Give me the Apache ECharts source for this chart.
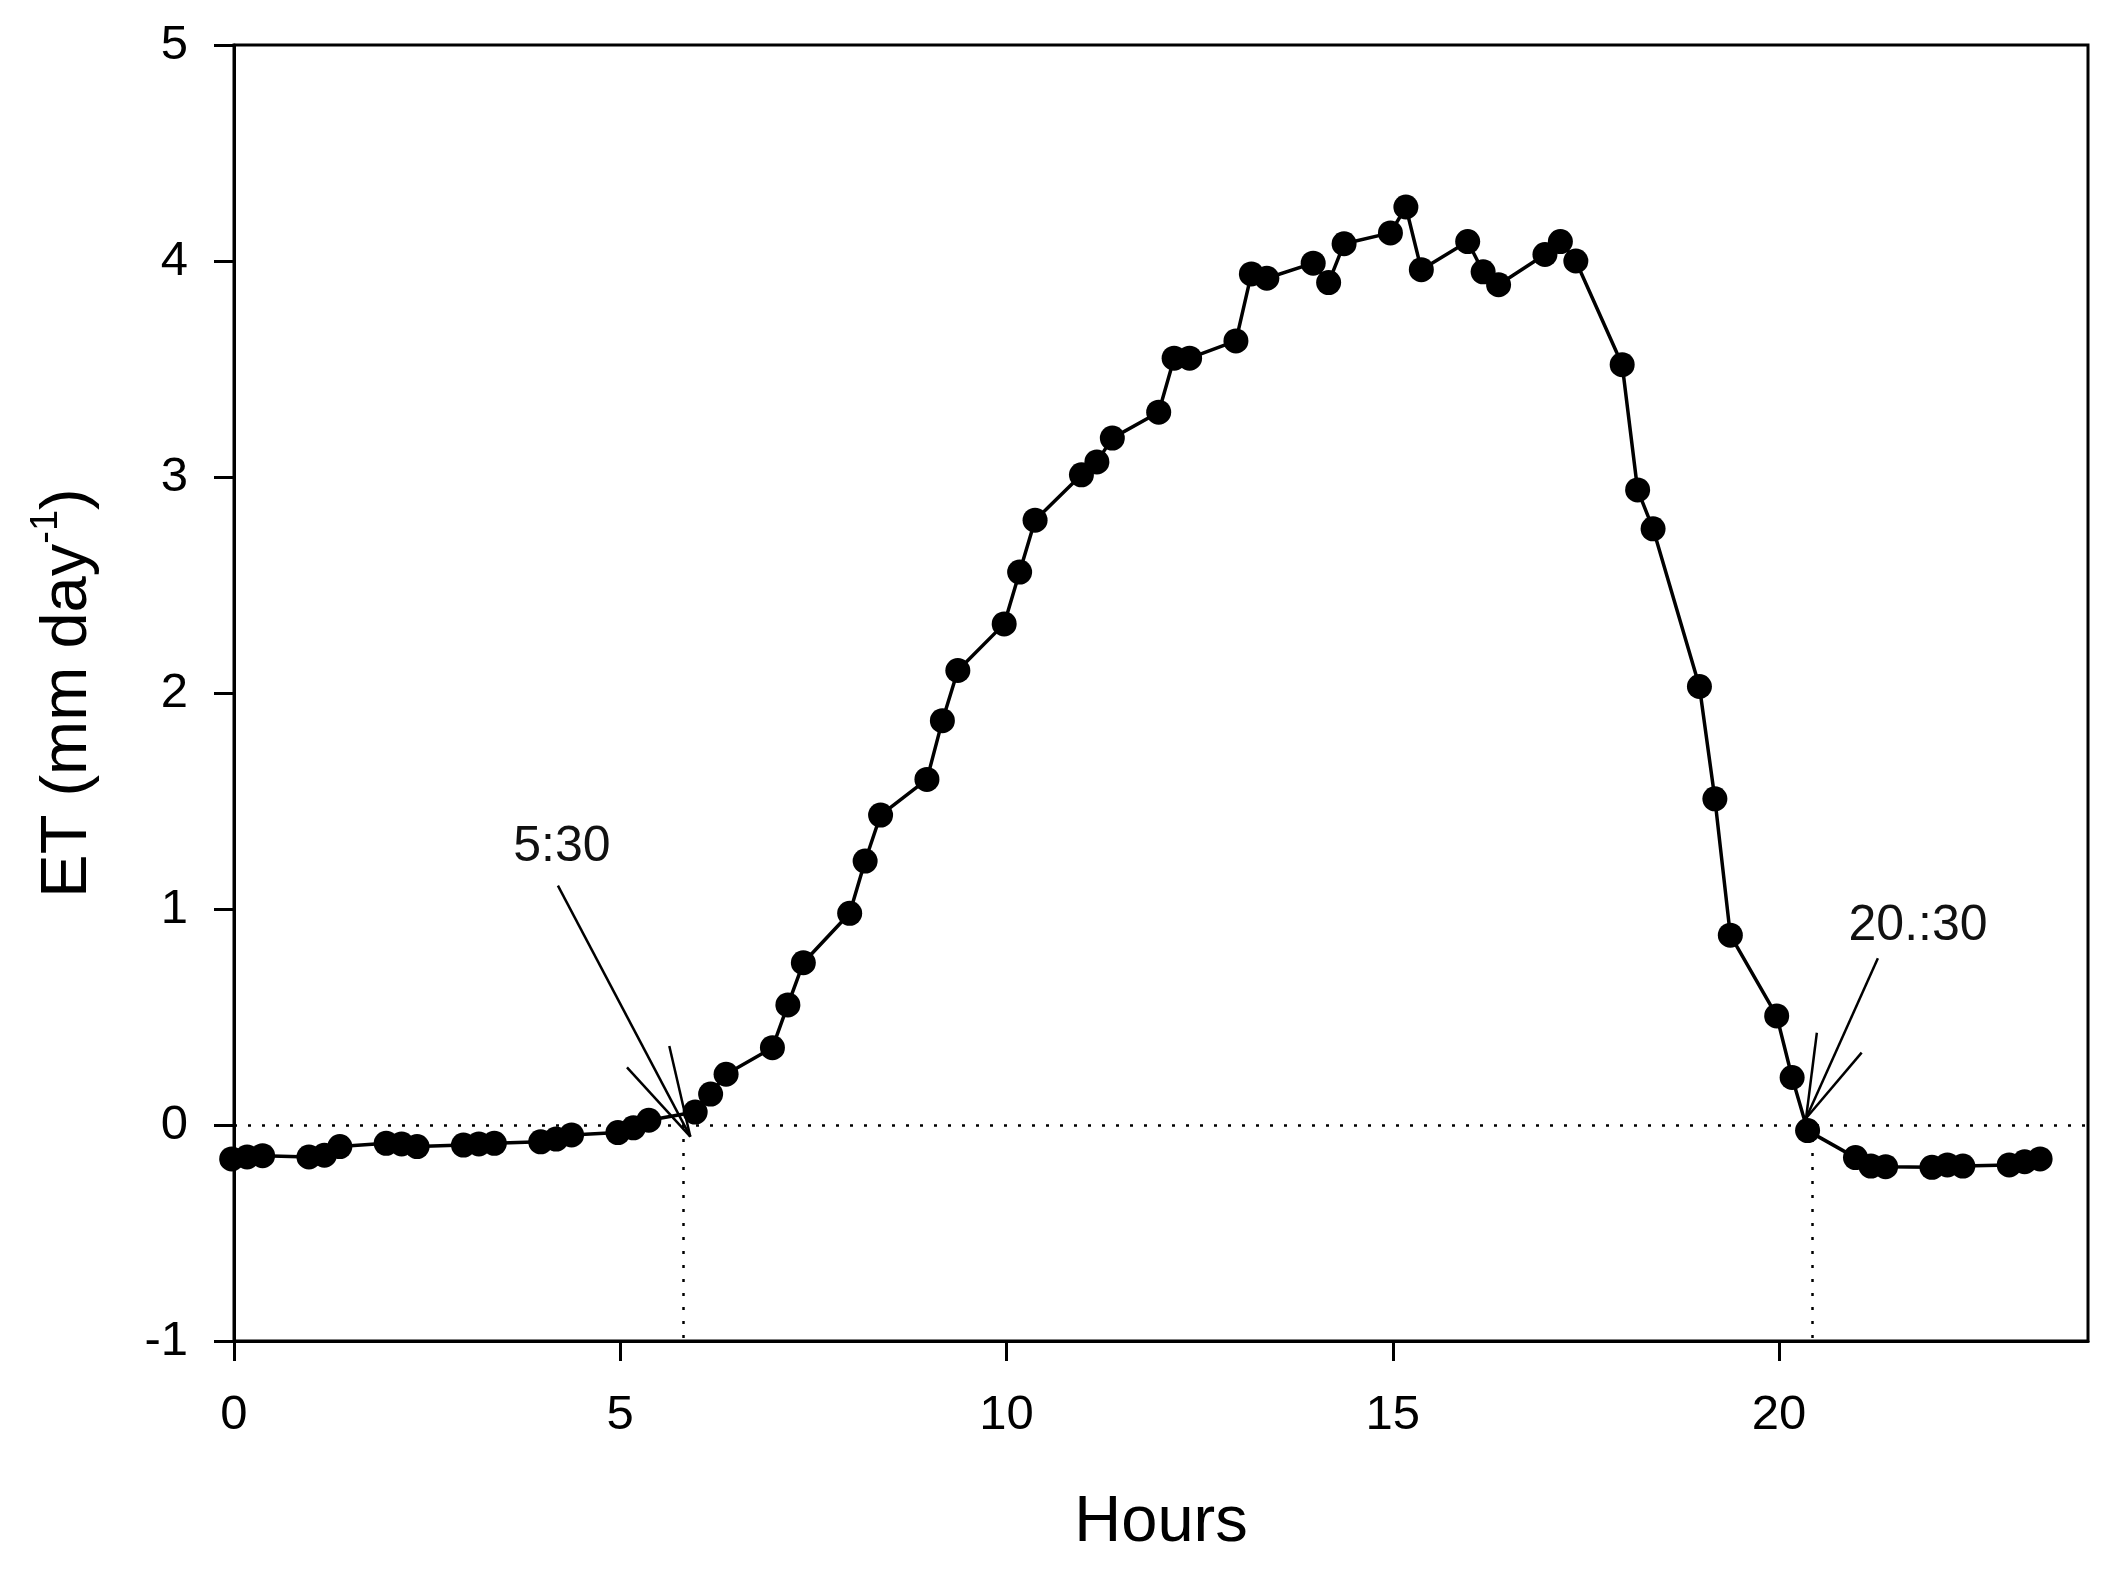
<!DOCTYPE html>
<html>
<head>
<meta charset="utf-8">
<script src="https://cdn.jsdelivr.net/npm/echarts@6/dist/echarts.min.js"></script>
<style>
html,body{margin:0;padding:0;background:#ffffff;}
#chart{width:2116px;height:1571px;}
</style>
</head>
<body>
<div id="chart"></div>
<script>
// ---- data ----
const hours = [
  -0.03, 0.17, 0.37,   0.97, 1.17, 1.37,   1.97, 2.17, 2.37,   2.97, 3.17, 3.37,
  3.97, 4.17, 4.37,    4.97, 5.17, 5.37,   5.97, 6.17, 6.37,   6.97, 7.17, 7.37,
  7.97, 8.17, 8.37,    8.97, 9.17, 9.37,   9.97, 10.17, 10.37, 10.97, 11.17, 11.37,
  11.97, 12.17, 12.37, 12.97, 13.17, 13.37, 13.97, 14.17, 14.37, 14.97, 15.17, 15.37,
  15.97, 16.17, 16.37, 16.97, 17.17, 17.37, 17.97, 18.17, 18.37, 18.97, 19.17, 19.37,
  19.97, 20.17, 20.37, 20.99, 21.19, 21.38, 21.98, 22.18, 22.38, 22.98, 23.18, 23.38
];
const et = [
  -0.157, -0.148, -0.142,  -0.148, -0.140, -0.100,  -0.085, -0.088, -0.100,  -0.093, -0.088, -0.085,
  -0.078, -0.065, -0.046,  -0.035, -0.013, 0.022,   0.060, 0.143, 0.235,     0.358, 0.556, 0.751,
  0.980, 1.222, 1.435,     1.600, 1.872, 2.104,     2.320, 2.560, 2.800,     3.010, 3.070, 3.180,
  3.300, 3.550, 3.550,     3.630, 3.940, 3.920,     3.990, 3.900, 4.080,     4.130, 4.250, 3.960,
  4.090, 3.950, 3.890,     4.030, 4.090, 4.000,     3.520, 2.940, 2.760,     2.030, 1.510, 0.879,
  0.505, 0.220, -0.026,    -0.151, -0.190, -0.193,  -0.196, -0.185, -0.190,  -0.185, -0.170, -0.157
];
const xTickValues = [0, 5, 10, 15, 20];
const yTickValues = [-1, 0, 1, 2, 3, 4, 5];

// annotations: labels, arrow tails, arrow tips, arrow-head barbs, crossing times
const annotLabels = ['5:30', '20.:30'];
const annotLabelPos = [[4.245, 1.287], [21.80, 0.919]];
const arrowTails = [[4.193, 1.108], [21.28, 0.772]];
const arrowTips = [[5.907, -0.054], [20.35, 0.031]];
const arrowBarbs = [[[5.087, 0.267], [5.635, 0.366]], [[20.49, 0.427], [21.07, 0.335]]];
const crossingHours = [5.81, 20.43];

// ---- build ----
const FONT = '"Liberation Sans", Arial, sans-serif';
const mainData = hours.map((h, i) => [h, et[i]]);

const arrowSegs = [];
arrowTails.forEach((t, i) => {
  arrowSegs.push({coords: [t, arrowTips[i]]});
  arrowBarbs[i].forEach(b => arrowSegs.push({coords: [b, arrowTips[i]]}));
});
const dottedSegs = [{coords: [[0, 0], [24, 0]]}];
crossingHours.forEach(h => dottedSegs.push({coords: [[h, 0], [h, -1]]}));
const labelData = annotLabels.map((s, i) => ({name: s, value: annotLabelPos[i]}));

const chart = echarts.init(document.getElementById('chart'), null, {renderer: 'canvas'});
chart.setOption({
  backgroundColor: '#ffffff',
  animation: false,
  grid: {left: 234, right: 28, top: 45, bottom: 230, show: true, borderColor: '#000', borderWidth: 3, backgroundColor: 'transparent'},
  xAxis: {
    type: 'value', min: 0, max: 24, interval: 5,
    name: 'Hours', nameLocation: 'middle', nameGap: 150,
    nameTextStyle: {fontFamily: FONT, fontSize: 65, color: '#000'},
    axisLine: {show: true, onZero: false, lineStyle: {color: '#000', width: 3}},
    axisTick: {show: true, inside: false, length: 20, lineStyle: {color: '#000', width: 3}, customValues: xTickValues},
    axisLabel: {show: true, margin: 50, fontFamily: FONT, fontSize: 49, color: '#000', customValues: xTickValues},
    splitLine: {show: false}
  },
  yAxis: {
    type: 'value', min: -1, max: 5, interval: 1,
    name: '{a|ET (mm day}{b|-1}{a|)}', nameLocation: 'middle', nameGap: 126, nameRotate: 90,
    nameTextStyle: {
      fontFamily: FONT, fontSize: 65, color: '#000',
      rich: {
        a: {fontFamily: FONT, fontSize: 65, color: '#000', lineHeight: 80},
        b: {fontFamily: FONT, fontSize: 38, color: '#000', verticalAlign: 'top', lineHeight: 80}
      }
    },
    axisLine: {show: true, onZero: false, lineStyle: {color: '#000', width: 3}},
    axisTick: {show: true, inside: false, length: 20, lineStyle: {color: '#000', width: 3}, customValues: yTickValues},
    axisLabel: {show: true, margin: 46, fontFamily: FONT, fontSize: 49, color: '#000', customValues: yTickValues},
    splitLine: {show: false}
  },
  series: [
    {
      type: 'lines', coordinateSystem: 'cartesian2d', silent: true, z: 1,
      lineStyle: {color: '#000', width: 2.5, type: [3, 11], cap: 'butt', opacity: 1},
      data: dottedSegs
    },
    {
      type: 'lines', coordinateSystem: 'cartesian2d', silent: true, z: 3,
      lineStyle: {color: '#000', width: 2.5, type: 'solid', opacity: 1},
      data: arrowSegs
    },
    {
      type: 'line', data: mainData, clip: false, z: 2,
      symbol: 'circle', symbolSize: 25, showAllSymbol: true,
      lineStyle: {color: '#000', width: 3.5},
      itemStyle: {color: '#000', borderWidth: 0}
    },
    {
      type: 'scatter', data: labelData, symbolSize: 0, silent: true, z: 4,
      itemStyle: {opacity: 1, color: '#000'},
      label: {show: true, position: 'inside', formatter: p => p.name, fontFamily: FONT, fontSize: 50, color: '#111', opacity: 1}
    }
  ]
});
</script>
</body>
</html>
